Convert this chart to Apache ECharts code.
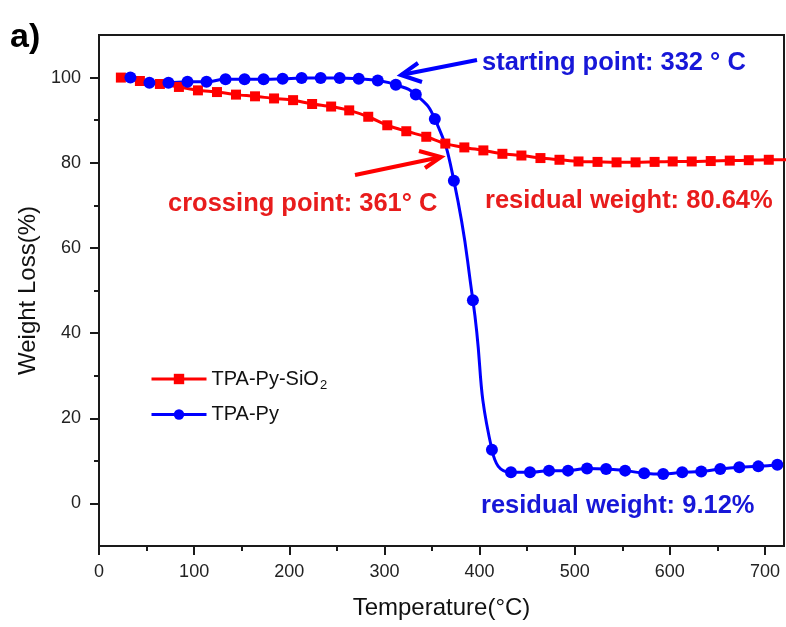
<!DOCTYPE html>
<html>
<head>
<meta charset="utf-8">
<script src="https://cdn.jsdelivr.net/npm/echarts@6/dist/echarts.min.js"></script>
<style>
  html, body { margin: 0; padding: 0; background: #fff; }
  #main { width: 786px; height: 627px; }
</style>
</head>
<body>
<div id="main"></div>
<script>
var docChart = document.getElementById("main");
var myChart = echarts.init(docChart);

// TPA-Py-SiO2 (red squares)
var sioTemp = [23, 43, 64, 84, 104, 124, 144, 164, 184, 204, 224, 244, 263, 283, 303, 323, 344, 364,
    384, 404, 424, 444, 464, 484, 504, 524, 544, 564, 584, 603, 623, 643, 663, 683, 704, 724];
var sioWeight = [100, 99.2, 98.5, 97.8, 97.0, 96.6, 96.0, 95.6, 95.1, 94.7, 93.8, 93.2, 92.3, 90.8, 88.8, 87.4, 86.1, 84.5,
    83.6, 82.9, 82.1, 81.7, 81.1, 80.7, 80.3, 80.2, 80.1, 80.1, 80.2, 80.3, 80.3, 80.4, 80.5, 80.6, 80.7, 80.7];

// TPA-Py (blue circles)
var pyTemp = [33, 53, 73, 93, 113, 133, 153, 173, 193, 213, 233, 253, 273, 293, 312, 333, 353, 373,
    393, 413, 433, 453, 473, 493, 513, 533, 553, 573, 593, 613, 633, 653, 673, 693, 713];
var pyWeight = [100, 98.8, 98.8, 99.0, 99.0, 99.6, 99.6, 99.6, 99.7, 99.9, 99.9, 99.9, 99.7, 99.3, 98.3, 96.0, 90.3, 75.8,
    47.7, 12.6, 7.3, 7.3, 7.7, 7.7, 8.2, 8.1, 7.7, 7.1, 6.9, 7.3, 7.5, 8.1, 8.5, 8.7, 9.1];

var xMajor = [0, 100, 200, 300, 400, 500, 600, 700];
var xMinor = [50, 150, 250, 350, 450, 550, 650];
var yMajor = [0, 20, 40, 60, 80, 100];
var yMinor = [10, 30, 50, 70, 90];

function pairs(xs, ys) {
    var out = [];
    for (var i = 0; i < xs.length; i++) {
        out.push([xs[i], ys[i]]);
    }
    return out;
}

var FONT = 'Liberation Sans';
var RED = '#ff0000';
var BLUE = '#0000ff';
var RED_TXT = '#e81c1c';
var BLUE_TXT = '#1717d8';
var AXIS = '#1a1a1a';

function note(text, x, y, color) {
    return {
        type: 'text', x: x, y: y, z: 100,
        style: {
            text: text, fill: color, font: 'bold 25.5px "' + FONT + '"',
            verticalAlign: 'middle', align: 'left'
        }
    };
}

function arrow(tail, tip, w1, w2, color) {
    return {
        type: 'group', z: 100,
        children: [
            { type: 'polyline', shape: { points: [tail, tip] }, style: { stroke: color, lineWidth: 4, fill: null } },
            { type: 'polyline', shape: { points: [w1, tip, w2] }, style: { stroke: color, lineWidth: 4, fill: null, lineJoin: 'miter' } }
        ]
    };
}

var option = {
    animation: false,
    backgroundColor: '#fff',
    textStyle: { fontFamily: FONT },
    grid: {
        left: 99, right: 2, top: 35, bottom: 81,
        show: true, borderColor: AXIS, borderWidth: 2
    },
    legend: {
        orient: 'vertical',
        left: 145, top: 364,
        itemWidth: 55, itemHeight: 13, itemGap: 13,
        lineStyle: { width: 3 },
        textStyle: {
            fontFamily: FONT, fontSize: 20, color: '#111',
            rich: {
                sub: { fontFamily: FONT, fontSize: 13, color: '#111', padding: [12, 0, 0, 1] }
            }
        },
        formatter: function (name) {
            return name === 'TPA-Py-SiO2' ? 'TPA-Py-SiO{sub|2}' : name;
        },
        data: ['TPA-Py-SiO2', 'TPA-Py']
    },
    xAxis: [{
        type: 'value', min: 0, max: 720,
        name: 'Temperature(°C)', nameLocation: 'middle', nameGap: 50,
        nameTextStyle: { fontFamily: FONT, fontSize: 24, color: '#111' },
        axisLine: { onZero: false, lineStyle: { color: AXIS, width: 2 } },
        axisTick: { customValues: xMajor, length: 9, lineStyle: { color: AXIS, width: 2 } },
        axisLabel: { customValues: xMajor, margin: 17, fontFamily: FONT, fontSize: 18, color: '#222' },
        splitLine: { show: false }
    }, {
        type: 'value', min: 0, max: 720, position: 'bottom',
        axisLine: { show: false, onZero: false },
        axisTick: { customValues: xMinor, length: 5, lineStyle: { color: AXIS, width: 2 } },
        axisLabel: { show: false },
        splitLine: { show: false }
    }],
    yAxis: [{
        type: 'value', min: -10, max: 110,
        name: 'Weight Loss(%)', nameLocation: 'middle', nameGap: 57,
        nameTextStyle: { fontFamily: FONT, fontSize: 24, color: '#111' },
        axisLine: { show: true, onZero: false, lineStyle: { color: AXIS, width: 2 } },
        axisTick: { show: true, customValues: yMajor, length: 9, lineStyle: { color: AXIS, width: 2 } },
        axisLabel: { customValues: yMajor, margin: 18, fontFamily: FONT, fontSize: 18, color: '#222' },
        splitLine: { show: false }
    }, {
        type: 'value', min: -10, max: 110, position: 'left',
        axisLine: { show: false, onZero: false },
        axisTick: { show: true, customValues: yMinor, length: 5, lineStyle: { color: AXIS, width: 2 } },
        axisLabel: { show: false },
        splitLine: { show: false }
    }],
    series: [{
        name: 'TPA-Py-SiO2',
        type: 'line',
        data: pairs(sioTemp, sioWeight),
        symbol: 'rect', symbolSize: 10,
        smooth: 0.3,
        itemStyle: { color: RED },
        lineStyle: { color: RED, width: 3 }
    }, {
        name: 'TPA-Py',
        type: 'line',
        data: pairs(pyTemp, pyWeight),
        symbol: 'circle', symbolSize: 12,
        smooth: 0.5,
        itemStyle: { color: BLUE },
        lineStyle: { color: BLUE, width: 3 }
    }],
    graphic: [
        {
            type: 'text', x: 10, y: 38, z: 100,
            style: { text: 'a)', fill: '#000', font: 'bold 34px "' + FONT + '"', verticalAlign: 'middle' }
        },
        note('starting point: 332 ° C', 482, 63, BLUE_TXT),
        note('residual weight: 80.64%', 485, 201, RED_TXT),
        note('crossing point: 361° C', 168, 204, RED_TXT),
        note('residual weight: 9.12%', 481, 506, BLUE_TXT),
        arrow([477, 60], [401, 75], [418, 63], [422, 82], BLUE),
        arrow([355, 175], [441, 157], [419, 151], [425, 168], RED)
    ]
};

myChart.setOption(option);
</script>
</body>
</html>
